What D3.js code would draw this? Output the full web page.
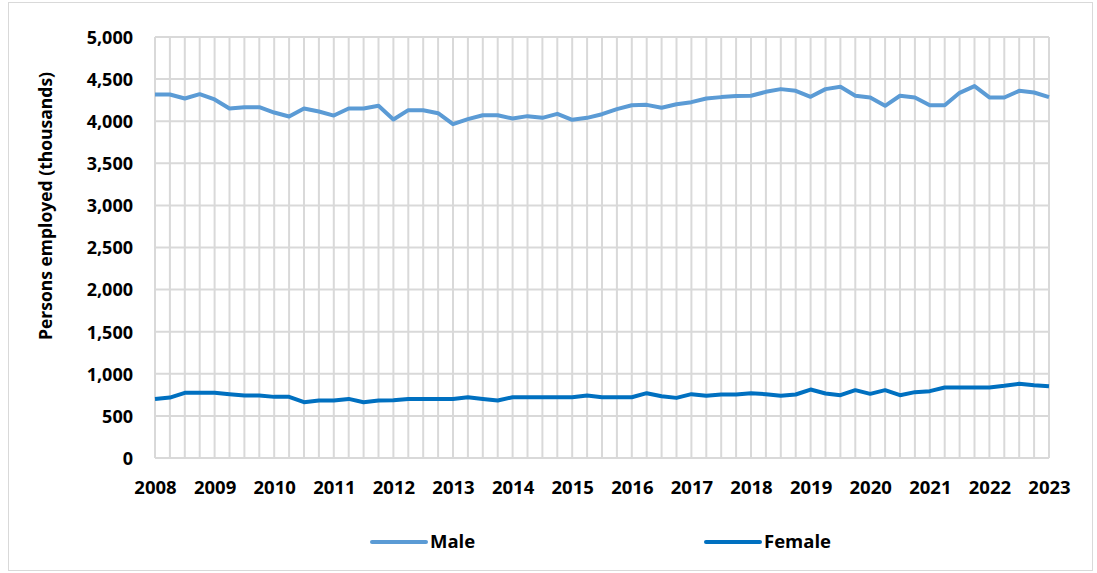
<!DOCTYPE html>
<html><head><meta charset="utf-8">
<script src="https://cdn.jsdelivr.net/npm/d3@7"></script>
<style>body{margin:0;background:#fff;} text{font-family:"Open Sans","Noto Sans",sans-serif;font-weight:700;fill:#000;}</style>
</head><body>
<svg id="c" width="1097" height="573"></svg>
<script>
const years = [2008,2009,2010,2011,2012,2013,2014,2015,2016,2017,2018,2019,2020,2021,2022,2023];
const yTicks = [0,500,1000,1500,2000,2500,3000,3500,4000,4500,5000];
const seriesNames = ["Male","Female"];
const seriesColors = ["#5b9bd5","#0070c0"];
const male = [4317,4317,4270,4321,4258,4151,4167,4167,4103,4056,4151,4115,4067,4151,4151,4183,4020,4131,4131,4095,
  3965,4024,4071,4071,4032,4060,4040,4087,4016,4040,4083,4143,4190,4194,4159,4202,4226,4270,4286,4298,
  4302,4349,4381,4361,4290,4381,4409,4302,4282,4183,4302,4282,4190,4190,4337,4417,4282,4282,4361,4341,4286];
const female = [702,718,774,774,774,758,742,742,726,726,663,683,683,702,663,683,687,702,702,702,
  702,722,702,683,722,722,722,722,722,742,722,722,722,770,734,714,758,738,754,754,
  770,758,738,754,813,766,746,806,762,806,746,782,794,837,837,837,837,857,881,865,853];

const svg = d3.select("#c");
const L=155, R=1049, T=37, B=458;
const n = male.length;
const x = d3.scaleLinear().domain([2008, 2023]).range([L, R]);
const t = i => 2008 + i/4;
const y = d3.scaleLinear().domain([0,5000]).range([B, T]);

// outer border
svg.append("rect").attr("x",8.5).attr("y",2.5).attr("width",1084).attr("height",568)
  .attr("fill","none").attr("stroke","#d9d9d9").attr("stroke-width",1);

// gridlines
const g = svg.append("g");
g.selectAll("line.h").data(yTicks).enter().append("line")
  .attr("x1",L).attr("x2",R).attr("y1",d=>y(d)).attr("y2",d=>y(d))
  .attr("stroke","#d9d9d9").attr("stroke-width",2);
g.selectAll("line.v").data(d3.range(n)).enter().append("line")
  .attr("x1",i=>x(t(i))).attr("x2",i=>x(t(i))).attr("y1",T).attr("y2",B)
  .attr("stroke","#d9d9d9").attr("stroke-width",2);

// y axis labels
const yAxis = d3.axisLeft(y).tickValues(yTicks).tickFormat(d3.format(",")).tickSize(0).tickPadding(0);
const ya = svg.append("g").attr("transform",`translate(${L-22},0)`).call(yAxis);
ya.select(".domain").remove();
ya.selectAll("text").attr("font-size",18).attr("dy","0.35em");
ya.attr("font-family",null);

// x axis labels
const xAxis = d3.axisBottom(x).tickValues(years).tickFormat(d3.format("d")).tickSize(0).tickPadding(0);
const xa = svg.append("g").attr("transform",`translate(0,${B+23})`).call(xAxis);
xa.select(".domain").remove();
xa.selectAll("text").attr("font-size",18.5).attr("dy","0.71em");
xa.attr("font-family",null);

// y title
svg.append("text").attr("transform","translate(52,206) rotate(-90)")
  .attr("text-anchor","middle").attr("font-size",17.5).text("Persons employed (thousands)");

// lines
const line = d3.line().x((d,i)=>x(t(i))).y(d=>y(d)).curve(d3.curveLinear);
[male,female].forEach((s,k)=>{
  svg.append("path").datum(s).attr("d",line).attr("fill","none")
    .attr("stroke",seriesColors[k]).attr("stroke-width",4).attr("stroke-linejoin","round");
});

// legend
const legX = [372, 706];
seriesNames.forEach((nm,k)=>{
  const lg = svg.append("g").attr("transform",`translate(${legX[k]},542)`);
  lg.append("line").attr("x1",0).attr("x2",54).attr("y1",0).attr("y2",0)
    .attr("stroke",seriesColors[k]).attr("stroke-width",4).attr("stroke-linecap","round");
  lg.append("text").attr("x",58).attr("y",0).attr("dy","0.35em").attr("font-size",18.5).text(nm);
});
</script>
</body></html>
